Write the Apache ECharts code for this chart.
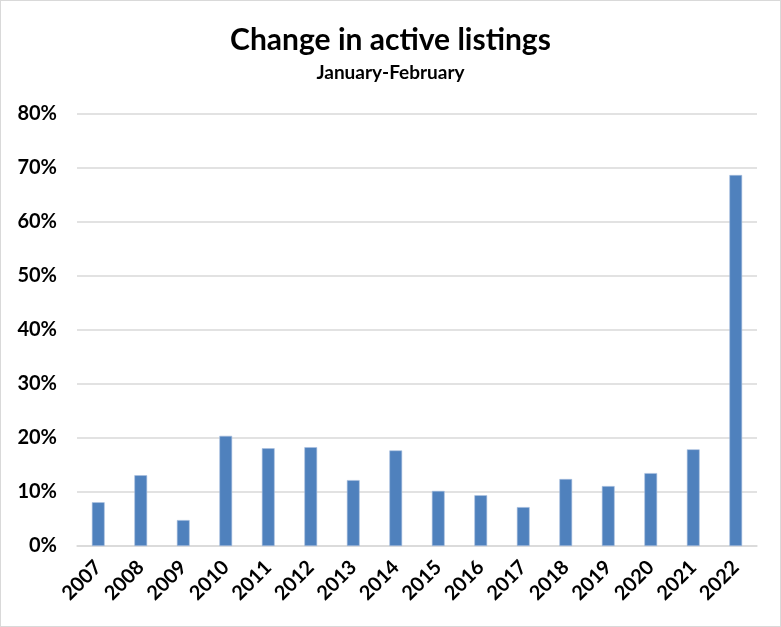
<!DOCTYPE html>
<html><head><meta charset="utf-8">
<script src="https://cdn.jsdelivr.net/npm/echarts@6/dist/echarts.min.js"></script>
<style>
html,body{margin:0;padding:0;background:#fff;}
#c{width:779px;height:625px;border:1px solid #d9d9d9;}
</style></head>
<body><div id="c"></div>
<script>
const years = ['2007','2008','2009','2010','2011','2012','2013','2014','2015','2016','2017','2018','2019','2020','2021','2022'];
const changePct = [8.1, 13.1, 4.8, 20.4, 18.1, 18.3, 12.2, 17.7, 10.2, 9.4, 7.2, 12.4, 11.1, 13.5, 17.9, 68.7];
const titleText = 'Change in active listings';
const subtitleText = 'January-February';

const chart = echarts.init(document.getElementById('c'));
chart.setOption({
  animation: false,
  title: {
    text: titleText, subtext: subtitleText, left: 'center', top: 19, itemGap: 8,
    textStyle: {fontFamily: 'Lato', fontWeight: 'bold', fontSize: 30, color: '#000'},
    subtextStyle: {fontFamily: 'Lato', fontWeight: 'bold', fontSize: 19, color: '#000'}
  },
  grid: {left: 76, right: 23, top: 113, bottom: 80},
  xAxis: {
    type: 'category', data: years,
    axisLine: {lineStyle: {color: '#d9d9d9', width: 1.5}},
    axisTick: {show: false},
    axisLabel: {rotate: 45, color: '#000', fontFamily: 'Lato', fontWeight: 'bold', fontSize: 20, margin: 18, interval: 0}
  },
  yAxis: {
    type: 'value', min: 0, max: 80, interval: 10,
    axisLine: {show: false}, axisTick: {show: false},
    splitLine: {lineStyle: {color: '#d9d9d9', width: 1.5}},
    axisLabel: {formatter: '{value}%', color: '#000', fontFamily: 'Lato', fontWeight: 'bold', fontSize: 20, margin: 20}
  },
  series: [{
    type: 'bar', data: changePct, barWidth: '30%',
    itemStyle: {color: '#4f81bd', borderColor: '#a9c0df', borderWidth: 0.6}
  }]
});
</script></body></html>
